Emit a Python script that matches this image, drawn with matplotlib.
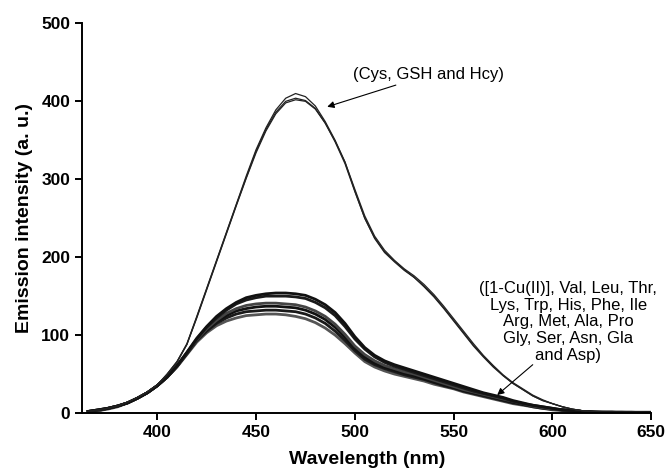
import numpy as np
import matplotlib
matplotlib.use('Agg')
import matplotlib.pyplot as plt

plt.rcParams['font.family'] = ['Liberation Sans', 'DejaVu Sans']

# wavelength grid (nm)
wl = np.arange(365, 651, 5)

# upper curves: Cys, GSH, Hcy
cys = [2, 4, 6, 9, 14, 20, 27, 36,
       50, 66, 89, 124, 160, 196,
       232, 268, 304, 338, 366, 389, 404, 410,
       406, 394, 374, 350, 322, 285,
       250, 224, 206, 194, 183, 174,
       162, 149, 134, 118,
       102, 86, 72, 59, 48, 38,
       30, 22, 16, 12,
       8, 5, 3, 2,
       1, 1, 1, 1, 1, 1]
gsh = [2, 3, 6, 9, 14, 20, 27, 36,
       49, 65, 88, 122, 158, 194,
       230, 266, 301, 334, 362, 384, 398, 402,
       400, 390, 372, 349, 322, 287,
       253, 227, 209, 196, 185, 176,
       165, 152, 137, 121,
       105, 89, 74, 61, 49, 39,
       31, 23, 17, 12,
       8, 5, 3, 2,
       1, 1, 1, 1, 0, 0]
hcy = [2, 4, 6, 9, 14, 20, 27, 36,
       50, 66, 88, 123, 159, 195,
       231, 267, 302, 336, 364, 386, 400, 404,
       401, 391, 372, 348, 320, 284,
       250, 225, 207, 195, 184, 174,
       163, 150, 135, 119,
       103, 87, 73, 60, 48, 38,
       30, 22, 16, 12,
       8, 5, 3, 2,
       1, 1, 1, 1, 1, 0]

# lower bundle: [1-Cu(II)] and the other amino acids
low1 = [2, 4, 6, 9, 13, 19, 26, 35,
        47, 61, 78, 96, 111, 124,
        134, 142, 148, 151, 153, 154, 154, 153,
        151, 146, 139, 129, 115, 98,
        84, 74, 67, 62, 58, 54,
        50, 46, 42, 38,
        34, 30, 26, 23, 20, 16,
        13, 10, 8, 6,
        4, 3, 2, 1.5,
        1, 1, 1, 1, 1, 1]
low2 = [2, 4, 6, 9, 13, 19, 26, 35,
        46, 60, 77, 95, 110, 122,
        132, 140, 145, 148, 150, 150, 150, 149,
        147, 142, 135, 125, 111, 95,
        82, 72, 65, 60, 56, 52,
        48, 44, 40, 36,
        32, 28, 25, 22, 19, 15,
        12, 10, 8, 6,
        4, 3, 2, 1.5,
        1, 1, 1, 1, 0.5, 0.5]
low3 = [2, 3, 6, 9, 13, 19, 26, 35,
        46, 60, 77, 94, 108, 119,
        128, 134, 138, 140, 141, 141, 140, 139,
        136, 131, 124, 114, 101, 86,
        75, 67, 61, 57, 53, 50,
        46, 42, 38, 34,
        30, 27, 24, 21, 18, 15,
        12, 9, 7, 5,
        4, 3, 2, 1,
        1, 1, 1, 0.5, 0.5, 0.5]
low4 = [2, 4, 6, 9, 13, 19, 26, 35,
        46, 60, 77, 94, 107, 117,
        125, 131, 134, 136, 137, 137, 136, 135,
        132, 127, 120, 110, 97, 83,
        72, 64, 59, 55, 51, 48,
        44, 40, 36, 33,
        29, 26, 23, 20, 17, 14,
        11, 9, 7, 5,
        4, 3, 2, 1,
        1, 1, 0.5, 0.5, 0.5, 0.5]
low5 = [2, 3, 6, 9, 13, 19, 26, 35,
        46, 60, 76, 93, 105, 115,
        122, 127, 130, 131, 132, 132, 131, 130,
        127, 122, 115, 105, 93, 80,
        69, 62, 57, 53, 49, 46,
        43, 39, 35, 32,
        28, 25, 22, 19, 16, 13,
        11, 8, 6, 5,
        4, 3, 2, 1,
        1, 1, 0.5, 0.5, 0.5, 0.5]
low6 = [2, 3, 5, 8, 13, 19, 26, 35,
        46, 59, 75, 91, 103, 112,
        118, 122, 125, 126, 127, 127, 126, 124,
        121, 116, 109, 100, 89, 77,
        66, 59, 54, 50, 47, 44,
        41, 37, 34, 31,
        27, 24, 21, 18, 15, 12,
        10, 8, 6, 4,
        3, 2, 1.5, 1,
        1, 0.5, 0.5, 0.5, 0.5, 0.5]

upper_label = '(Cys, GSH and Hcy)'
lower_label = ('([1-Cu(II)], Val, Leu, Thr,\nLys, Trp, His, Phe, Ile\n'
               'Arg, Met, Ala, Pro\nGly, Ser, Asn, Gla\nand Asp)')

fig = plt.figure(figsize=(6.68, 4.68), dpi=100)
ax = fig.add_axes([0.123, 0.1175, 0.852, 0.8325])

for y, c in zip([low6, low5, low4, low3, low2, low1],
                ['#555555', '#1a1a1a', '#111111', '#444444', '#1a1a1a', '#111111']):
    ax.plot(wl, y, color=c, lw=2.0, solid_joinstyle='round')

for y in [cys, gsh, hcy]:
    ax.plot(wl, y, color='#222222', lw=0.9, solid_joinstyle='round')

ax.annotate(upper_label, xy=(486, 393), xytext=(499, 434),
            fontsize=12, ha='left', va='center',
            arrowprops=dict(arrowstyle='-|>', color='black', lw=0.8,
                            mutation_scale=10, shrinkA=0, shrinkB=0))
ax.annotate('', xy=(572, 23), xytext=(590, 62),
            arrowprops=dict(arrowstyle='-|>', color='black', lw=0.8,
                            mutation_scale=10, shrinkA=0, shrinkB=0))
ax.text(608, 117, lower_label, fontsize=12, ha='center', va='center',
        linespacing=1.15)

ax.set_xlim(362, 650)
ax.set_ylim(0, 500)
ax.set_xticks([400, 450, 500, 550, 600, 650])
ax.set_yticks([0, 100, 200, 300, 400, 500])
ax.spines['top'].set_visible(False)
ax.spines['right'].set_visible(False)
for s in ['left', 'bottom']:
    ax.spines[s].set_linewidth(1.4)
ax.tick_params(direction='out', length=5, width=1.4, labelsize=12.5)
for lab in ax.get_xticklabels() + ax.get_yticklabels():
    lab.set_fontweight('bold')

ax.set_xlabel('Wavelength (nm)', fontsize=14, fontweight='bold', labelpad=8)
ax.set_ylabel('Emission intensity (a. u.)', fontsize=14, fontweight='bold', labelpad=6)

fig.savefig('out.png', dpi=100)
